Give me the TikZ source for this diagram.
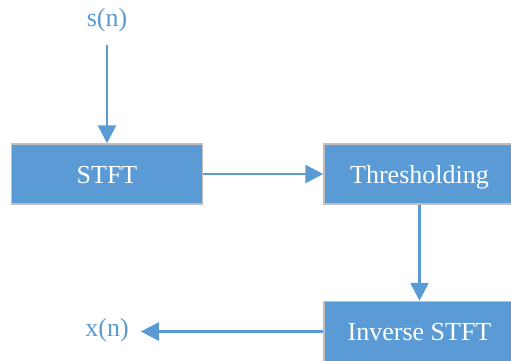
\documentclass[tikz,border=0pt]{standalone}
\usepackage{fontspec}
\setmainfont{Liberation Serif}
\usetikzlibrary{arrows.meta,positioning}
\definecolor{boxblue}{HTML}{5B9BD5}
\definecolor{boxgray}{HTML}{BFBFBF}

\begin{document}
\begin{tikzpicture}[x=1pt,y=-1pt,>={Triangle[length=18pt,width=18pt]},
   node distance=120pt,
   block/.style={rectangle,draw=boxgray,line width=1.5pt,fill=boxblue,text=white,
                 minimum width=191pt,minimum height=60pt,inner sep=0pt,
                 text height=22pt,text depth=4pt,
                 font=\fontsize{26}{30}\selectfont},
   signal/.style={text=boxblue,inner sep=0pt,font=\fontsize{26}{30}\selectfont},
   flow/.style={->,draw=boxblue,line width=2.7pt}]
   \useasboundingbox (0,0) rectangle (511,360);
   \node[block]  (stft)                      at (107,174) {STFT};
   \node[block]  (thresh) [right=of stft]                 {Thresholding};
   \node[block]  (istft)  [below=96pt of thresh]          {Inverse STFT};
   \node[signal] (sn)                        at (107,20)  {s(n)};
   \node[signal] (xn)                        at (107,330) {x(n)};

   \draw[flow,shorten <=13pt] (sn) -- (stft);
   \draw[flow] (stft) -- (thresh);
   \draw[flow] (thresh) -- (istft);
   \draw[flow,shorten >=12pt] (istft) -- (istft -| xn.east);
\end{tikzpicture}
\end{document}
